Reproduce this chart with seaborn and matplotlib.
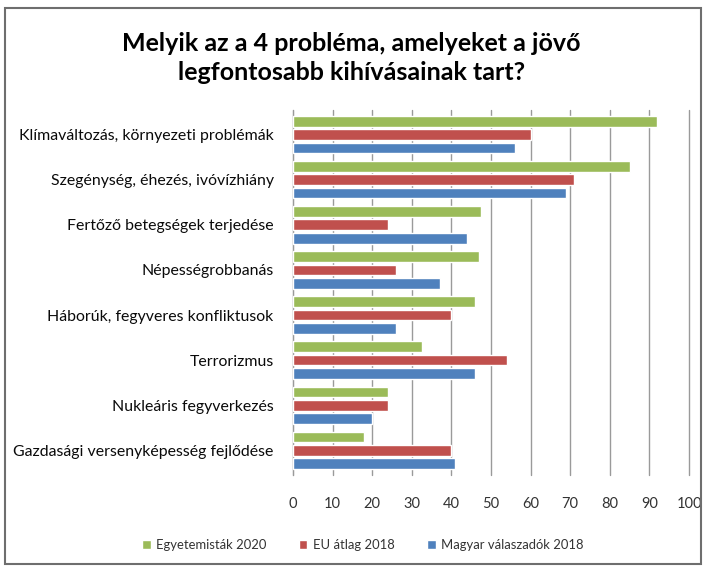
import pandas as pd
import matplotlib
matplotlib.use('Agg')
import matplotlib.pyplot as plt
import seaborn as sns
from matplotlib.patches import Rectangle

# Adatok
kategoriak = [
    'Klímaváltozás, környezeti problémák',
    'Szegénység, éhezés, ivóvízhiány',
    'Fertőző betegségek terjedése',
    'Népességrobbanás',
    'Háborúk, fegyveres konfliktusok',
    'Terrorizmus',
    'Nukleáris fegyverkezés',
    'Gazdasági versenyképesség fejlődése',
]
sorozatok = ['Egyetemisták 2020', 'EU átlag 2018', 'Magyar válaszadók 2018']
egyetemistak_2020 = [92, 85, 47.5, 47, 46, 32.5, 24, 18]
eu_atlag_2018 = [60, 71, 24, 26, 40, 54, 24, 40]
magyar_2018 = [56, 69, 44, 37, 26, 46, 20, 41]
szinek = ['#9BBB59', '#C0504D', '#4F81BD']
x_tickek = list(range(0, 101, 10))

df = pd.DataFrame({
    'kategoria': kategoriak * 3,
    'ertek': egyetemistak_2020 + eu_atlag_2018 + magyar_2018,
    'sorozat': [s for s in sorozatok for _ in kategoriak],
})

sns.set_style('white')
plt.rcParams['font.family'] = ['Lato', 'DejaVu Sans']

fig = plt.figure(figsize=(7.03, 5.66), dpi=100)
ax = fig.add_axes([0.4168, 0.1608, 0.5633, 0.6449])

sns.barplot(data=df, y='kategoria', x='ertek', hue='sorozat', hue_order=sorozatok,
            order=kategoriak, palette=szinek, saturation=1, width=0.88, gap=0.18,
            orient='h', ax=ax, zorder=3)

ax.set_xlim(0, 100)
ax.set_xticks(x_tickek)
ax.set_ylim(7.55, -0.55)
ax.set_xlabel('')
ax.set_ylabel('')
ax.grid(axis='x', color='#9a9a9a', linewidth=1, zorder=0)
for gl in ax.get_xgridlines():
    gl.set_clip_on(False)
ax.grid(axis='y', visible=False)
for s in ['top', 'right', 'bottom']:
    ax.spines[s].set_visible(False)
ax.spines['left'].set_color('#9a9a9a')
ax.tick_params(axis='x', length=0, pad=16, labelsize=10.5, labelcolor='#333333')
ax.tick_params(axis='y', length=0, pad=14, labelsize=11.4, labelcolor='#0a0a0a')

handles, labels = ax.get_legend_handles_labels()
ax.get_legend().remove()
fig.legend(handles, labels, loc='center', bbox_to_anchor=(0.516, 0.037), ncol=3,
           frameon=False, handlelength=0.65, handleheight=0.65, handletextpad=0.4,
           columnspacing=2.5, fontsize=9.4, labelcolor='#333333')

fig.text(0.5, 0.897, 'Melyik az a 4 probléma, amelyeket a jövő\nlegfontosabb kihívásainak tart?',
         ha='center', va='center', fontsize=18, fontweight='bold', linespacing=1.3,
         color='black')

fig.patches.append(Rectangle((0.007, 0.004), 0.99, 0.982, transform=fig.transFigure,
                             fill=False, edgecolor='#6e6e6e', linewidth=1.5))

fig.savefig('out.png', dpi=100)
plt.close(fig)
